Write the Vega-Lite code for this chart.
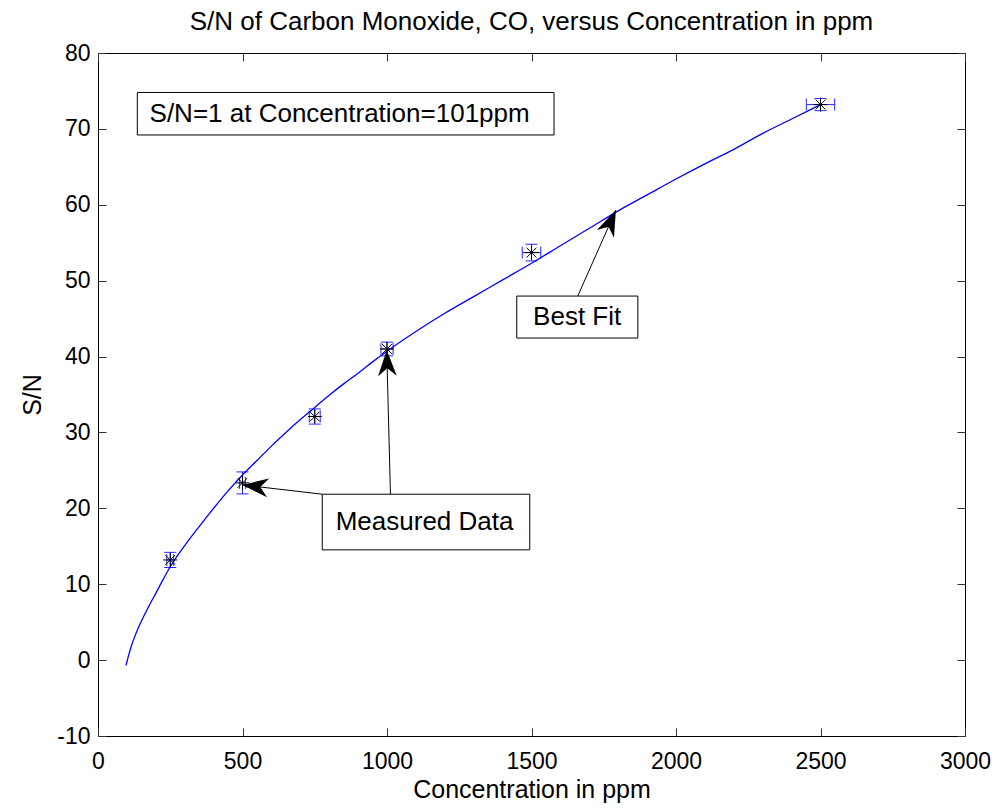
{
  "$schema": "https://vega.github.io/schema/vega-lite/v6.json",
  "width": 867,
  "height": 683,
  "autosize": "none",
  "padding": {"left": 98, "top": 53, "right": 35, "bottom": 72},
  "background": "white",
  "title": {"text": "S/N of Carbon Monoxide, CO, versus Concentration in ppm", "font": "Liberation Sans", "fontSize": 26, "fontWeight": "normal", "color": "black", "anchor": "middle", "baseline": "alphabetic", "frame": "group", "offset": 24, "dy": 38},
  "config": {
    "view": {"stroke": "black", "strokeWidth": 1},
    "axis": {"grid": false, "domain": false, "tickColor": "#333333", "tickSize": -8, "labelColor": "black", "titleColor": "black", "labelFont": "Liberation Sans", "titleFont": "Liberation Sans", "labelFontSize": 23, "titleFontSize": 25, "titleFontWeight": "normal", "labelFlush": false, "labelOverlap": false}
  },
  "datasets": {
    "fit": [
      {"conc": 97, "sn": -0.7}, {"conc": 105, "sn": 0.5}, {"conc": 115, "sn": 1.8}, {"conc": 125, "sn": 2.9},
      {"conc": 140, "sn": 4.3}, {"conc": 160, "sn": 5.9}, {"conc": 180, "sn": 7.4}, {"conc": 200, "sn": 8.8},
      {"conc": 225, "sn": 10.6}, {"conc": 250, "sn": 12.3}, {"conc": 300, "sn": 15.1}, {"conc": 350, "sn": 17.6},
      {"conc": 400, "sn": 20.0}, {"conc": 450, "sn": 22.3}, {"conc": 500, "sn": 24.4}, {"conc": 550, "sn": 26.3},
      {"conc": 600, "sn": 28.2}, {"conc": 650, "sn": 30.0}, {"conc": 700, "sn": 31.7}, {"conc": 750, "sn": 33.3},
      {"conc": 800, "sn": 34.9}, {"conc": 850, "sn": 36.4}, {"conc": 900, "sn": 37.8}, {"conc": 950, "sn": 39.3},
      {"conc": 1000, "sn": 40.7}, {"conc": 1100, "sn": 43.3}, {"conc": 1200, "sn": 45.7}, {"conc": 1300, "sn": 47.9},
      {"conc": 1400, "sn": 50.1}, {"conc": 1500, "sn": 52.3}, {"conc": 1600, "sn": 54.6}, {"conc": 1700, "sn": 56.9},
      {"conc": 1800, "sn": 59.2}, {"conc": 1900, "sn": 61.3}, {"conc": 2000, "sn": 63.4}, {"conc": 2100, "sn": 65.4},
      {"conc": 2200, "sn": 67.3}, {"conc": 2300, "sn": 69.4}, {"conc": 2400, "sn": 71.3}, {"conc": 2500, "sn": 73.2}
    ],
    "meas": [
      {"conc": 250, "sn": 13.2, "sn_lo": 12.2, "sn_hi": 14.2, "c_lo": 238, "c_hi": 262},
      {"conc": 500, "sn": 23.35, "sn_lo": 21.9, "sn_hi": 24.8, "c_lo": 490, "c_hi": 510},
      {"conc": 750, "sn": 32.1, "sn_lo": 31.1, "sn_hi": 33.1, "c_lo": 731, "c_hi": 769},
      {"conc": 1000, "sn": 41.0, "sn_lo": 40.1, "sn_hi": 41.9, "c_lo": 979, "c_hi": 1021},
      {"conc": 1500, "sn": 53.7, "sn_lo": 52.6, "sn_hi": 54.8, "c_lo": 1468, "c_hi": 1532},
      {"conc": 2500, "sn": 73.2, "sn_lo": 72.4, "sn_hi": 74.0, "c_lo": 2451, "c_hi": 2549}
    ],
    "boxes": [
      {"label": "S/N=1 at Concentration=101ppm", "x": 136, "x2": 1578, "y": 74.8, "y2": 69.2, "tx": 836, "ty": 72.0},
      {"label": "Best Fit", "x": 1449, "x2": 1868, "y": 47.97, "y2": 42.44, "tx": 1658, "ty": 45.2},
      {"label": "Measured Data", "x": 776, "x2": 1494, "y": 21.86, "y2": 14.53, "tx": 1130, "ty": 18.2}
    ],
    "arrows": [
      {"id": "bf", "x": 1660, "y": 47.97, "xt": 1792, "yt": 59.3},
      {"id": "up", "x": 1012, "y": 21.86, "xt": 999, "yt": 40.86},
      {"id": "left", "x": 776, "y": 21.86, "xt": 499, "yt": 23.09}
    ]
  },
  "resolve": {"axis": {"x": "independent", "y": "independent"}},
  "layer": [
    {
      "data": {"name": "fit"},
      "mark": {"type": "line", "color": "#0000ff", "strokeWidth": 1.3, "interpolate": "monotone"},
      "encoding": {
        "x": {"field": "conc", "type": "quantitative", "scale": {"domain": [0, 3000], "nice": false, "zero": false},
              "axis": {"orient": "bottom", "values": [0, 500, 1000, 1500, 2000, 2500, 3000], "labelExpr": "'' + datum.value", "title": "Concentration in ppm", "labelPadding": 22, "titlePadding": 4}},
        "y": {"field": "sn", "type": "quantitative", "scale": {"domain": [-10, 80], "nice": false, "zero": false},
              "axis": {"orient": "left", "values": [-10, 0, 10, 20, 30, 40, 50, 60, 70, 80], "labelExpr": "'' + datum.value", "title": "S/N", "labelPadding": 16, "titlePadding": 11}}
      }
    },
    {
      "data": {"name": "meas"},
      "mark": {"type": "rule", "color": "#0000ff", "strokeWidth": 1, "opacity": 0.85},
      "encoding": {
        "x": {"field": "conc", "type": "quantitative", "axis": {"orient": "top", "values": [0, 500, 1000, 1500, 2000, 2500, 3000], "labels": false, "title": null}},
        "y": {"field": "sn_lo", "type": "quantitative", "axis": {"orient": "right", "values": [-10, 0, 10, 20, 30, 40, 50, 60, 70, 80], "labels": false, "title": null}},
        "y2": {"field": "sn_hi"}
      }
    },
    {
      "data": {"name": "meas"},
      "mark": {"type": "tick", "orient": "horizontal", "color": "#0000ff", "size": 12, "thickness": 1, "opacity": 0.85},
      "encoding": {
        "x": {"field": "conc", "type": "quantitative", "axis": null},
        "y": {"field": "sn_lo", "type": "quantitative", "axis": null}
      }
    },
    {
      "data": {"name": "meas"},
      "mark": {"type": "tick", "orient": "horizontal", "color": "#0000ff", "size": 12, "thickness": 1, "opacity": 0.85},
      "encoding": {
        "x": {"field": "conc", "type": "quantitative", "axis": null},
        "y": {"field": "sn_hi", "type": "quantitative", "axis": null}
      }
    },
    {
      "data": {"name": "meas"},
      "mark": {"type": "rule", "color": "#0000ff", "strokeWidth": 1, "opacity": 0.85},
      "encoding": {
        "x": {"field": "c_lo", "type": "quantitative", "axis": null},
        "x2": {"field": "c_hi"},
        "y": {"field": "sn", "type": "quantitative", "axis": null}
      }
    },
    {
      "data": {"name": "meas"},
      "mark": {"type": "tick", "orient": "vertical", "color": "#0000ff", "size": 12, "thickness": 1, "opacity": 0.85},
      "encoding": {
        "x": {"field": "c_lo", "type": "quantitative", "axis": null},
        "y": {"field": "sn", "type": "quantitative", "axis": null}
      }
    },
    {
      "data": {"name": "meas"},
      "mark": {"type": "tick", "orient": "vertical", "color": "#0000ff", "size": 12, "thickness": 1, "opacity": 0.85},
      "encoding": {
        "x": {"field": "c_hi", "type": "quantitative", "axis": null},
        "y": {"field": "sn", "type": "quantitative", "axis": null}
      }
    },
    {
      "data": {"name": "meas"},
      "mark": {"type": "point", "shape": "M-1,0L1,0M0,-1L0,1M-0.7,-0.7L0.7,0.7M-0.7,0.7L0.7,-0.7", "filled": false, "color": "black", "size": 196, "strokeWidth": 1, "opacity": 1},
      "encoding": {
        "x": {"field": "conc", "type": "quantitative", "axis": null},
        "y": {"field": "sn", "type": "quantitative", "axis": null}
      }
    },
    {
      "data": {"name": "arrows"},
      "mark": {"type": "rule", "color": "black", "strokeWidth": 1},
      "encoding": {
        "x": {"field": "x", "type": "quantitative", "axis": null},
        "y": {"field": "y", "type": "quantitative", "axis": null},
        "x2": {"field": "xt"},
        "y2": {"field": "yt"}
      }
    },
    {
      "data": {"name": "arrows"},
      "transform": [{"filter": "datum.id == 'bf'"}],
      "mark": {"type": "point", "shape": "M0,0L-0.36,1L0,0.7L0.36,1Z", "filled": true, "color": "black", "size": 2704, "angle": 23.8, "opacity": 1, "strokeWidth": 0},
      "encoding": {
        "x": {"field": "xt", "type": "quantitative", "axis": null},
        "y": {"field": "yt", "type": "quantitative", "axis": null}
      }
    },
    {
      "data": {"name": "arrows"},
      "transform": [{"filter": "datum.id == 'up'"}],
      "mark": {"type": "point", "shape": "M0,0L-0.36,1L0,0.7L0.36,1Z", "filled": true, "color": "black", "size": 2704, "angle": -1.6, "opacity": 1, "strokeWidth": 0},
      "encoding": {
        "x": {"field": "xt", "type": "quantitative", "axis": null},
        "y": {"field": "yt", "type": "quantitative", "axis": null}
      }
    },
    {
      "data": {"name": "arrows"},
      "transform": [{"filter": "datum.id == 'left'"}],
      "mark": {"type": "point", "shape": "M0,0L-0.36,1L0,0.7L0.36,1Z", "filled": true, "color": "black", "size": 2704, "angle": -83.4, "opacity": 1, "strokeWidth": 0},
      "encoding": {
        "x": {"field": "xt", "type": "quantitative", "axis": null},
        "y": {"field": "yt", "type": "quantitative", "axis": null}
      }
    },
    {
      "data": {"name": "boxes"},
      "mark": {"type": "rect", "fill": "white", "stroke": "black", "strokeWidth": 1},
      "encoding": {
        "x": {"field": "x", "type": "quantitative", "axis": null},
        "x2": {"field": "x2"},
        "y": {"field": "y", "type": "quantitative", "axis": null},
        "y2": {"field": "y2"}
      }
    },
    {
      "data": {"name": "boxes"},
      "mark": {"type": "text", "font": "Liberation Sans", "fontSize": 26, "color": "black", "align": "center", "baseline": "middle"},
      "encoding": {
        "x": {"field": "tx", "type": "quantitative", "axis": null},
        "y": {"field": "ty", "type": "quantitative", "axis": null},
        "text": {"field": "label", "type": "nominal"}
      }
    }
  ]
}
